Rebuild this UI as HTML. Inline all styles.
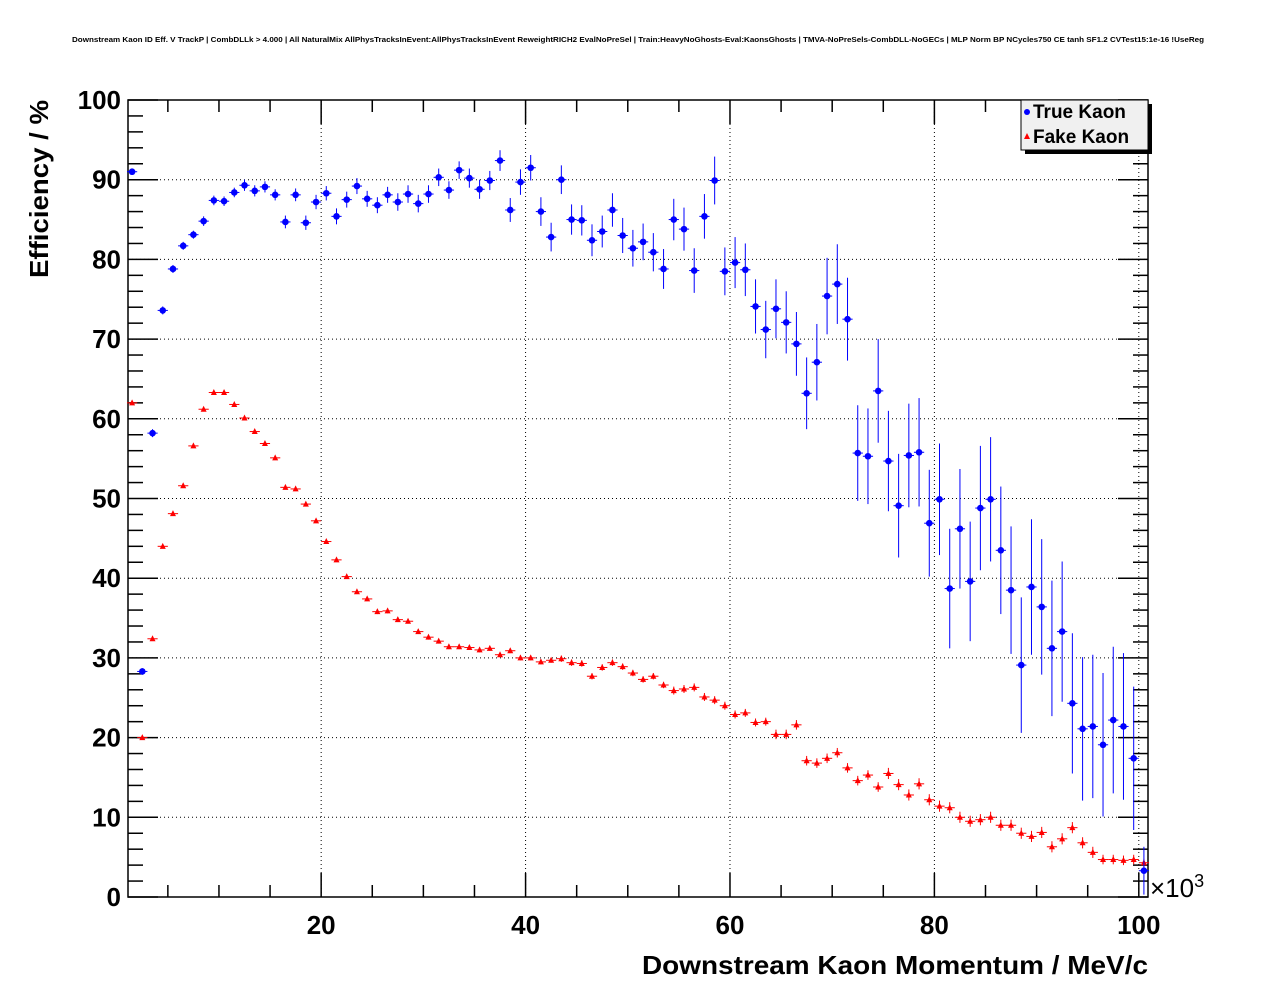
<!DOCTYPE html>
<html><head><meta charset="utf-8"><style>
body{margin:0;background:#fff}
svg text{font-family:"Liberation Sans",sans-serif}
</style></head><body>
<svg id="chart" width="1276" height="996" xmlns="http://www.w3.org/2000/svg">
<rect x="0" y="0" width="1276" height="996" fill="#fff"/>
<text x="72" y="42" font-size="7" font-weight="bold" textLength="1132" lengthAdjust="spacingAndGlyphs">Downstream Kaon ID Eff. V TrackP | CombDLLk &gt; 4.000 | All NaturalMix AllPhysTracksInEvent:AllPhysTracksInEvent ReweightRICH2 EvalNoPreSel | Train:HeavyNoGhosts-Eval:KaonsGhosts | TMVA-NoPreSels-CombDLL-NoGECs | MLP Norm BP NCycles750 CE tanh SF1.2 CVTest15:1e-16 !UseReg</text>
<g id="grid"></g>
<g id="axes"></g>
<g id="marks"></g>
<text transform="translate(48,278) rotate(-90)" font-size="26" font-weight="bold" text-anchor="start" textLength="178" lengthAdjust="spacingAndGlyphs">Efficiency / %</text>
<text x="642" y="974" font-size="26" font-weight="bold" textLength="506" lengthAdjust="spacingAndGlyphs">Downstream Kaon Momentum / MeV/c</text>
<text x="1150" y="897" font-size="26">×10<tspan font-size="18" dy="-10">3</tspan></text>
<g>
<rect x="1025" y="104" width="127" height="50" fill="#000"/>
<rect x="1021" y="100" width="127" height="50" fill="#f0f0f0" stroke="#000" stroke-width="1"/>
<circle cx="1027" cy="112" r="3" fill="#0000ff"/>
<text x="1033" y="118" font-size="19" font-weight="bold">True Kaon</text>
<polygon points="1027,133 1030,139 1024,139" fill="#ff0000"/>
<text x="1033" y="143" font-size="19" font-weight="bold">Fake Kaon</text>
</g>
</svg>
<script>
const xTicks=[20,40,60,80,100];
const yTicks=[0,10,20,30,40,50,60,70,80,90,100];
const trueVals=[91.0,28.3,58.2,73.6,78.8,81.7,83.1,84.8,87.4,87.3,88.4,89.3,88.6,89.1,88.1,84.7,88.1,84.6,87.2,88.3,85.4,87.5,89.2,87.6,86.8,88.1,87.2,88.2,87.0,88.2,90.3,88.7,91.2,90.2,88.8,89.9,92.4,86.2,89.7,91.5,86.0,82.8,90.0,85.0,84.9,82.4,83.5,86.2,83.0,81.4,82.2,80.9,78.8,85.0,83.8,78.6,85.4,89.9,78.5,79.6,78.7,74.1,71.2,73.8,72.1,69.4,63.2,67.1,75.4,76.9,72.5,55.7,55.3,63.5,54.7,49.1,55.4,55.8,46.9,49.9,38.7,46.2,39.6,48.8,49.9,43.5,38.5,29.1,38.9,36.4,31.2,33.3,24.3,21.1,21.4,19.1,22.2,21.4,17.4,3.3];
const trueErr=[0.4,0.4,0.5,0.5,0.5,0.5,0.5,0.6,0.6,0.6,0.6,0.7,0.7,0.7,0.7,0.8,0.8,0.9,0.9,0.9,1.0,1.0,1.0,1.0,1.0,1.0,1.1,1.1,1.1,1.1,1.1,1.1,1.1,1.2,1.2,1.2,1.3,1.5,1.6,1.6,1.8,1.8,1.8,1.9,1.9,2.0,2.0,2.1,2.2,2.3,2.3,2.4,2.5,2.6,2.7,2.8,2.8,3.0,3.0,3.2,3.3,3.4,3.6,3.7,3.9,4.0,4.5,4.8,4.8,5.0,5.2,6.0,6.0,6.5,6.3,6.5,6.5,6.8,6.7,7.0,7.5,7.5,7.5,7.8,7.8,8.0,8.0,8.5,8.5,8.5,8.5,8.8,8.8,9.0,9.0,9.0,9.2,9.2,9.0,3.0];
const fakeVals=[62.0,20.0,32.4,44.0,48.1,51.6,56.6,61.2,63.3,63.3,61.8,60.1,58.4,56.9,55.1,51.4,51.2,49.3,47.2,44.6,42.3,40.2,38.3,37.4,35.8,35.9,34.8,34.6,33.3,32.6,32.1,31.4,31.4,31.3,31.0,31.2,30.4,30.9,30.0,30.0,29.5,29.7,29.9,29.4,29.3,27.7,28.8,29.4,28.9,28.1,27.3,27.7,26.6,25.9,26.1,26.3,25.1,24.7,24.0,22.9,23.1,21.9,22.0,20.4,20.4,21.6,17.1,16.8,17.4,18.1,16.2,14.6,15.3,13.8,15.5,14.1,12.8,14.2,12.2,11.4,11.2,10.0,9.5,9.7,10.0,9.0,9.0,8.0,7.6,8.1,6.3,7.3,8.7,6.8,5.6,4.7,4.7,4.6,4.7,4.3];
const fakeErr=[0.2,0.2,0.2,0.2,0.2,0.2,0.2,0.2,0.2,0.2,0.2,0.2,0.2,0.2,0.2,0.2,0.2,0.2,0.2,0.2,0.2,0.2,0.2,0.2,0.3,0.3,0.3,0.3,0.3,0.3,0.3,0.3,0.3,0.3,0.3,0.3,0.3,0.3,0.3,0.3,0.3,0.3,0.4,0.4,0.4,0.4,0.4,0.4,0.4,0.4,0.4,0.4,0.4,0.5,0.5,0.5,0.5,0.5,0.5,0.5,0.5,0.5,0.5,0.6,0.6,0.6,0.6,0.6,0.6,0.6,0.6,0.6,0.6,0.6,0.7,0.7,0.7,0.7,0.7,0.7,0.7,0.7,0.7,0.7,0.7,0.7,0.7,0.7,0.7,0.7,0.7,0.7,0.7,0.7,0.7,0.6,0.6,0.6,0.6,0.5];
const X0=128,X1=1148,Y0=897,Y1=100,XMIN=1.1,XMAX=100.9;
const sx=v=>X0+(v-XMIN)/(XMAX-XMIN)*(X1-X0);
const sy=v=>Y0-(v/100)*(Y0-Y1);
const NS='http://www.w3.org/2000/svg';
function mk(tag,attrs,parent){const e=document.createElementNS(NS,tag);for(const k in attrs)e.setAttribute(k,attrs[k]);parent.appendChild(e);return e;}
const grid=document.getElementById('grid'),axes=document.getElementById('axes'),marks=document.getElementById('marks');
xTicks.forEach(t=>{const l=mk('line',{x1:sx(t),x2:sx(t),y1:Y0,y2:Y1,stroke:'#000','stroke-width':1,'stroke-dasharray':'1,3'},grid);

});
yTicks.forEach(t=>{const l=mk('line',{x1:X0,x2:X1,y1:sy(t),y2:sy(t),stroke:'#000','stroke-width':1,'stroke-dasharray':'1,3'},grid);

});
const fr=mk('rect',{x:X0,y:Y1,width:X1-X0,height:Y0-Y1,fill:'none',stroke:'#000','stroke-width':1.5},axes);


for(let v=5;v<=100;v+=5){const big=v%20===0,len=big?24:12;
mk('line',{x1:sx(v),x2:sx(v),y1:Y0,y2:Y0-len,stroke:'#000','stroke-width':1.5},axes);
mk('line',{x1:sx(v),x2:sx(v),y1:Y1,y2:Y1+len,stroke:'#000','stroke-width':1.5},axes);}
for(let v=0;v<=100;v+=2){const big=v%10===0,len=big?30:15;
mk('line',{x1:X0,x2:X0+len,y1:sy(v),y2:sy(v),stroke:'#000','stroke-width':1.5},axes);
mk('line',{x1:X1,x2:X1-len,y1:sy(v),y2:sy(v),stroke:'#000','stroke-width':1.5},axes);}
xTicks.forEach(t=>{const tx=mk('text',{x:sx(t),y:934,'font-size':26,'font-weight':'bold','text-anchor':'middle'},axes);tx.textContent=t;

});
yTicks.forEach(t=>{const tx=mk('text',{x:121,y:sy(t)+9,'font-size':26,'font-weight':'bold','text-anchor':'end'},axes);tx.textContent=t;

});
function series(vals,errs,color,kind){vals.forEach((v,i)=>{const xc=1.5+i,px=sx(xc),py=sy(v);
const g=mk('g',{},marks);


mk('line',{x1:px,x2:px,y1:sy(v+errs[i]),y2:sy(v-errs[i]),stroke:color,'stroke-width':1},g);
mk('line',{x1:sx(xc-0.5),x2:sx(xc+0.5),y1:py,y2:py,stroke:color,'stroke-width':1},g);
if(kind==='true-kaon')mk('circle',{cx:px,cy:py,r:3.3,fill:color},g);
else mk('polygon',{points:`${px},${py-3.5} ${px+3},${py+2.5} ${px-3},${py+2.5}`,fill:color},g);});}
series(fakeVals,fakeErr,'#ff0000','fake-kaon');
series(trueVals,trueErr,'#0000ff','true-kaon');
</script>
</body></html>
